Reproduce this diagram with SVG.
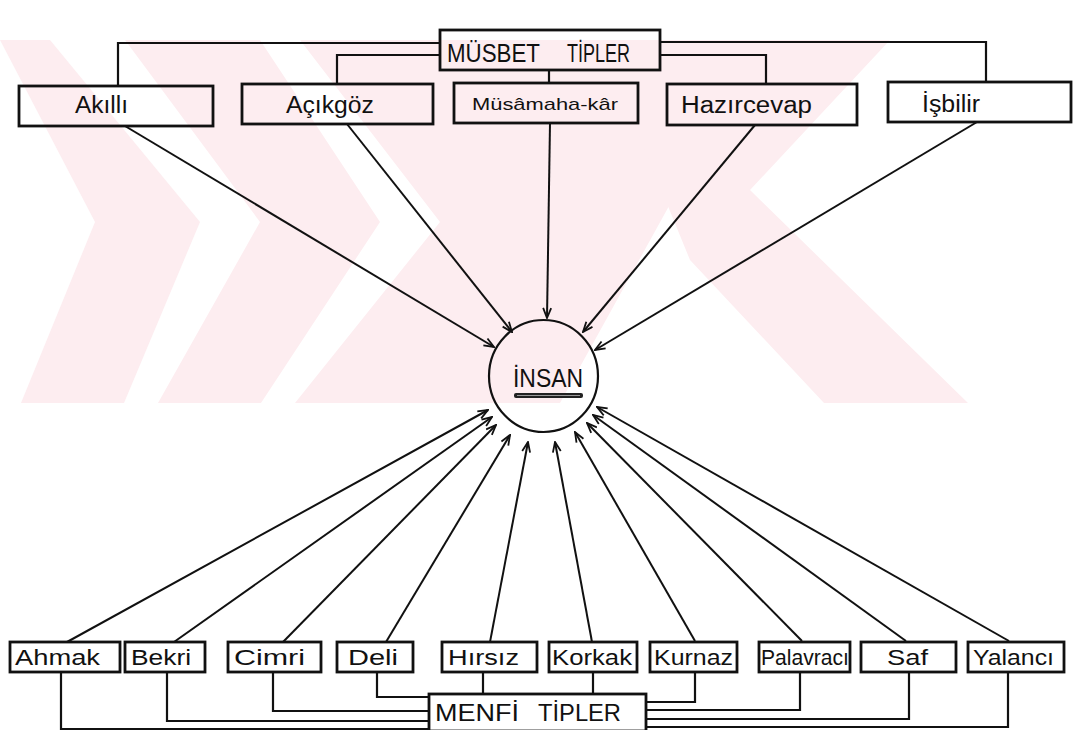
<svg xmlns="http://www.w3.org/2000/svg" width="1075" height="730" viewBox="0 0 1075 730">
<defs>
<style>
.box{fill:none;stroke:#111;stroke-width:2.8}
.lbl{font-family:"Liberation Sans","DejaVu Sans",sans-serif;fill:#111}
.con{fill:none;stroke:#111;stroke-width:2.2}
.arr{fill:none;stroke:#111;stroke-width:2;marker-end:url(#ah)}
.wm{fill:#fdedf0}
</style>
<marker id="ah" viewBox="0 0 12 10" refX="11" refY="5" markerWidth="12" markerHeight="10" markerUnits="userSpaceOnUse" orient="auto"><path d="M1,1 L11,5 L1,9" fill="none" stroke="#111" stroke-width="1.8"/></marker>
<clipPath id="band"><rect x="0" y="40" width="1075" height="363"/></clipPath>
</defs>
<rect width="1075" height="730" fill="#fff"/>
<g id="watermark" clip-path="url(#band)">
<polygon class="wm" points="0,40 50,40 200,222 124,403 21,403 95,222"/>
<polygon class="wm" points="125,40 260,40 380,222 261,403 158,403 260,222"/>
<polygon class="wm" points="300,40 600,40 700,150 560,403 295,403 440,222"/>
<polygon class="wm" points="600,40 890,40 750,190 968,403 824,403 690,260"/>
</g>
<g id="connectors">
<path class="con" d="M118,86 V43 H440"/>
<path class="con" d="M337,84 V55 H440"/>
<path class="con" d="M549,70 V83"/>
<path class="con" d="M660,55 H766 V84"/>
<path class="con" d="M660,42 H986 V82"/>
<path class="arr" d="M125,126 L494,347"/>
<path class="arr" d="M347,124 L512,332"/>
<path class="arr" d="M550,123 L547,318"/>
<path class="arr" d="M755,125 L583,332"/>
<path class="arr" d="M977,122 L595,350"/>
<path class="arr" d="M67,642 L488,410"/>
<path class="arr" d="M174,642 L492,417"/>
<path class="arr" d="M283,642 L496,425"/>
<path class="arr" d="M386,642 L510,435"/>
<path class="arr" d="M490,642 L528,442"/>
<path class="arr" d="M592,642 L555,442"/>
<path class="arr" d="M695,641 L575,432"/>
<path class="arr" d="M802,641 L587,423"/>
<path class="arr" d="M906,641 L593,415"/>
<path class="arr" d="M1009,641 L597,407"/>
<path class="con" d="M61,672 V729 H429"/>
<path class="con" d="M167,672 V721 H429"/>
<path class="con" d="M273,672 V711 H429"/>
<path class="con" d="M377,672 V697 H429"/>
<path class="con" d="M483,672 V694"/>
<path class="con" d="M593,672 V694"/>
<path class="con" d="M695,672 V702 H646"/>
<path class="con" d="M800,672 V710 H646"/>
<path class="con" d="M909,672 V719 H646"/>
<path class="con" d="M1008,672 V727 H646"/>
</g>
<g id="musbet">
<rect class="box" x="440" y="30" width="220" height="40"/>
<text class="lbl" x="447" y="62" font-size="25" textLength="93" lengthAdjust="spacingAndGlyphs">MÜSBET</text>
<text class="lbl" x="567" y="62" font-size="25" textLength="63" lengthAdjust="spacingAndGlyphs">TİPLER</text>
</g>
<g id="akilli">
<rect class="box" x="19" y="86" width="194" height="40"/>
<text class="lbl" x="75" y="113" font-size="23" textLength="53" lengthAdjust="spacingAndGlyphs">Akıllı</text>
</g>
<g id="acikgoz">
<rect class="box" x="242" y="84" width="191" height="40"/>
<text class="lbl" x="286" y="113" font-size="23" textLength="88" lengthAdjust="spacingAndGlyphs">Açıkgöz</text>
</g>
<g id="musamahakar">
<rect class="box" x="454" y="83" width="184" height="40"/>
<text class="lbl" x="472" y="110" font-size="17" textLength="146" lengthAdjust="spacingAndGlyphs">Müsâmaha-kâr</text>
</g>
<g id="hazircevap">
<rect class="box" x="667" y="84" width="190" height="41"/>
<text class="lbl" x="681" y="113" font-size="23" textLength="131" lengthAdjust="spacingAndGlyphs">Hazırcevap</text>
</g>
<g id="isbilir">
<rect class="box" x="888" y="82" width="183" height="40"/>
<text class="lbl" x="922" y="112" font-size="23" textLength="58" lengthAdjust="spacingAndGlyphs">İşbilir</text>
</g>
<g id="insan">
<ellipse cx="543.5" cy="376" rx="54.5" ry="56" fill="none" stroke="#111" stroke-width="2.2"/>
<text class="lbl" x="513" y="387" font-size="25" textLength="70" lengthAdjust="spacingAndGlyphs">İNSAN</text>
<rect x="514" y="393" width="69" height="5" rx="2" fill="#222"/>
<line x1="517" y1="395.5" x2="580" y2="395.5" stroke="#999" stroke-width="1"/>
</g>
<g id="ahmak"><rect class="box" x="10" y="642" width="110" height="30"/><text class="lbl" x="15" y="665" font-size="22" textLength="85" lengthAdjust="spacingAndGlyphs">Ahmak</text></g>
<g id="bekri"><rect class="box" x="125" y="642" width="80" height="30"/><text class="lbl" x="131" y="665" font-size="22" textLength="60" lengthAdjust="spacingAndGlyphs">Bekri</text></g>
<g id="cimri"><rect class="box" x="228" y="642" width="93" height="30"/><text class="lbl" x="234" y="665" font-size="22" textLength="71" lengthAdjust="spacingAndGlyphs">Cimri</text></g>
<g id="deli"><rect class="box" x="337" y="642" width="76" height="30"/><text class="lbl" x="348" y="665" font-size="22" textLength="50" lengthAdjust="spacingAndGlyphs">Deli</text></g>
<g id="hirsiz"><rect class="box" x="442" y="642" width="95" height="30"/><text class="lbl" x="448" y="665" font-size="22" textLength="71" lengthAdjust="spacingAndGlyphs">Hırsız</text></g>
<g id="korkak"><rect class="box" x="549" y="642" width="88" height="30"/><text class="lbl" x="552" y="665" font-size="22" textLength="80" lengthAdjust="spacingAndGlyphs">Korkak</text></g>
<g id="kurnaz"><rect class="box" x="650" y="642" width="87" height="30"/><text class="lbl" x="654" y="665" font-size="22" textLength="79" lengthAdjust="spacingAndGlyphs">Kurnaz</text></g>
<g id="palavraci"><rect class="box" x="759" y="642" width="91" height="30"/><text class="lbl" x="761" y="665" font-size="22" textLength="88" lengthAdjust="spacingAndGlyphs">Palavracı</text></g>
<g id="saf"><rect class="box" x="861" y="642" width="95" height="30"/><text class="lbl" x="887" y="665" font-size="22" textLength="41" lengthAdjust="spacingAndGlyphs">Saf</text></g>
<g id="yalanci"><rect class="box" x="968" y="642" width="96" height="30"/><text class="lbl" x="973" y="665" font-size="22" textLength="81" lengthAdjust="spacingAndGlyphs">Yalancı</text></g>
<g id="menfi">
<rect class="box" x="429" y="694" width="217" height="37"/>
<text class="lbl" x="435" y="721" font-size="23" textLength="84" lengthAdjust="spacingAndGlyphs">MENFİ</text>
<text class="lbl" x="538" y="721" font-size="23" textLength="83" lengthAdjust="spacingAndGlyphs">TİPLER</text>
</g>
</svg>
